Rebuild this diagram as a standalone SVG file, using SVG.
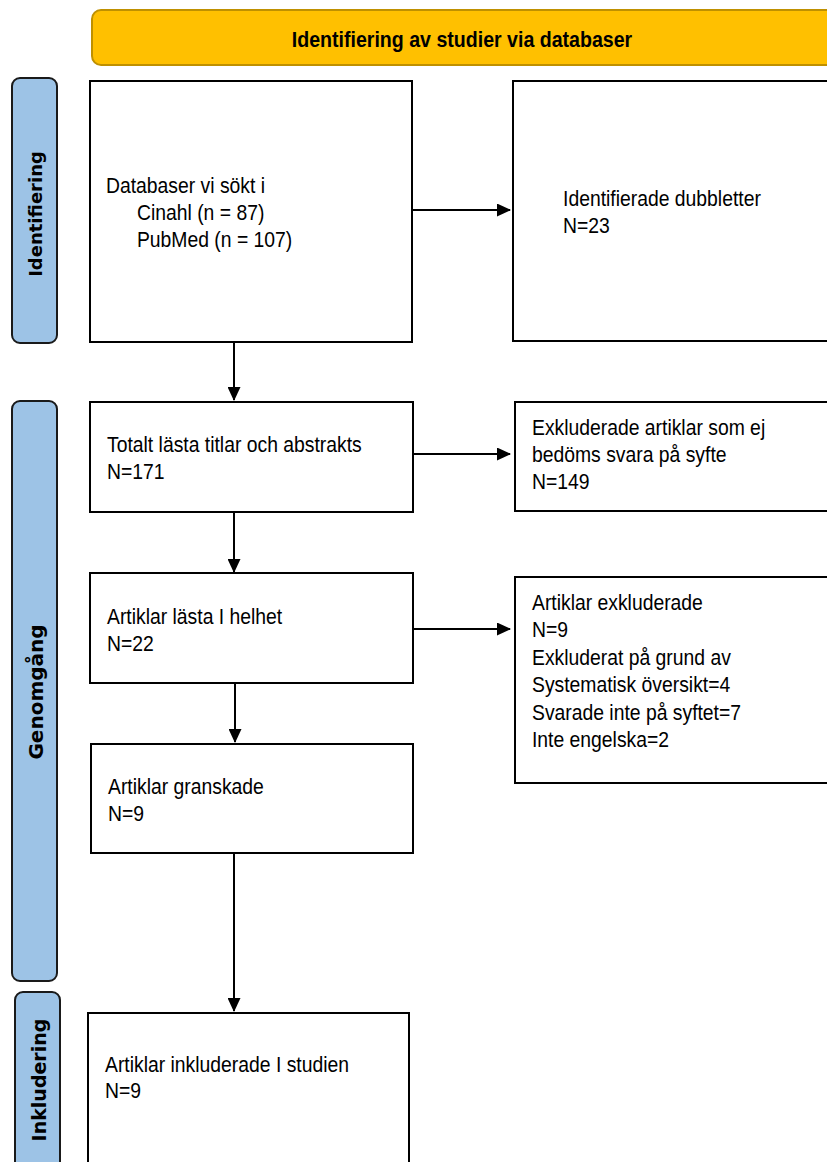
<svg xmlns="http://www.w3.org/2000/svg" width="827" height="1162" viewBox="0 0 827 1162">
<style>
.box{fill:#fff;stroke:#000;stroke-width:2}
.side{fill:#9DC3E6;stroke:#1a1a1a;stroke-width:2}
.t{font-family:"Liberation Sans",Arial,sans-serif;font-size:21.5px;fill:#000}
.st{font-family:"DejaVu Sans",Verdana,sans-serif;font-weight:bold;fill:#000;text-anchor:middle}
.hd{font-family:"Liberation Sans",Arial,sans-serif;font-weight:bold;font-size:22px;fill:#000;text-anchor:middle}
.c{stroke:#000;stroke-width:2;fill:none;marker-end:url(#ah)}
</style>
<defs>
<marker id="ah" viewBox="0 0 14 13" refX="13" refY="6.5" markerWidth="14" markerHeight="13" markerUnits="userSpaceOnUse" orient="auto">
<path d="M0,0 L14,6.5 L0,13 Z" fill="#000"/>
</marker>
<clipPath id="clip4"><rect x="516" y="402" width="311" height="108"/></clipPath>
</defs>
<rect width="827" height="1162" fill="#fff"/>
<g id="header">
<rect x="92" y="10" width="760" height="55" rx="9" fill="#FFC000" stroke="#BF9000" stroke-width="2"/>
<text class="hd" x="519.1" y="47" transform="scale(0.89 1)">Identifiering av studier via databaser</text>
</g>
<g id="lane-identifiering">
<rect class="side" x="12" y="78" width="45" height="265" rx="8"/>
<text class="st" font-size="18" transform="translate(42 214) rotate(-90)">Identifiering</text>
</g>
<g id="lane-genomgang">
<rect class="side" x="12" y="401" width="45" height="580" rx="8"/>
<text class="st" font-size="20" transform="translate(43 692) rotate(-90)">Genomgång</text>
</g>
<g id="lane-inkludering">
<rect class="side" x="15" y="992" width="45" height="200" rx="8"/>
<text class="st" font-size="19" transform="translate(46 1080) rotate(-90)">Inkludering</text>
</g>
<g id="n1">
<rect class="box" x="90" y="81" width="322" height="261"/>
<g transform="scale(0.9 1)">
<text class="t" x="117.8" y="193">Databaser vi sökt i</text>
<text class="t" x="152.2" y="220">Cinahl (n = 87)</text>
<text class="t" x="152.2" y="247">PubMed (n = 107)</text>
</g>
</g>
<g id="n2">
<rect class="box" x="513" y="81" width="330" height="260"/>
<g transform="scale(0.9 1)">
<text class="t" x="625.6" y="206">Identifierade dubbletter</text>
<text class="t" x="625.6" y="233">N=23</text>
</g>
</g>
<g id="n3">
<rect class="box" x="90" y="402" width="323" height="110"/>
<g transform="scale(0.9 1)">
<text class="t" x="118.9" y="452">Totalt lästa titlar och abstrakts</text>
<text class="t" x="118.9" y="479">N=171</text>
</g>
</g>
<g id="n4">
<rect class="box" x="515" y="402" width="330" height="109"/>
<g clip-path="url(#clip4)">
<g transform="scale(0.9 1)">
<text class="t" x="591.1" y="435">Exkluderade artiklar som ej</text>
<text class="t" x="591.1" y="462">bedöms svara på syfte</text>
<text class="t" x="591.1" y="489">N=149</text>
</g>
</g>
</g>
<g id="n5">
<rect class="box" x="90" y="573" width="323" height="110"/>
<g transform="scale(0.9 1)">
<text class="t" x="118.9" y="624">Artiklar lästa I helhet</text>
<text class="t" x="118.9" y="651">N=22</text>
</g>
</g>
<g id="n6">
<rect class="box" x="515" y="577" width="330" height="206"/>
<g transform="scale(0.9 1)">
<text class="t" x="591.1" y="610">Artiklar exkluderade</text>
<text class="t" x="591.1" y="637">N=9</text>
<text class="t" x="591.1" y="665">Exkluderat på grund av</text>
<text class="t" x="591.1" y="692">Systematisk översikt=4</text>
<text class="t" x="591.1" y="720">Svarade inte på syftet=7</text>
<text class="t" x="591.1" y="747">Inte engelska=2</text>
</g>
</g>
<g id="n7">
<rect class="box" x="91" y="744" width="322" height="109"/>
<g transform="scale(0.9 1)">
<text class="t" x="120" y="794">Artiklar granskade</text>
<text class="t" x="120" y="821">N=9</text>
</g>
</g>
<g id="n8">
<rect class="box" x="88" y="1013" width="321" height="180"/>
<g transform="scale(0.9 1)">
<text class="t" x="116.7" y="1072">Artiklar inkluderade I studien</text>
<text class="t" x="116.7" y="1098">N=9</text>
</g>
</g>
<g id="connectors">
<line class="c" x1="412" y1="210" x2="510" y2="210"/>
<line class="c" x1="234" y1="342" x2="234" y2="400"/>
<line class="c" x1="413" y1="454" x2="510" y2="454"/>
<line class="c" x1="234" y1="512" x2="234" y2="572"/>
<line class="c" x1="413" y1="629" x2="510" y2="629"/>
<line class="c" x1="235" y1="683" x2="235" y2="742"/>
<line class="c" x1="234" y1="853" x2="234" y2="1011"/>
</g>
</svg>
